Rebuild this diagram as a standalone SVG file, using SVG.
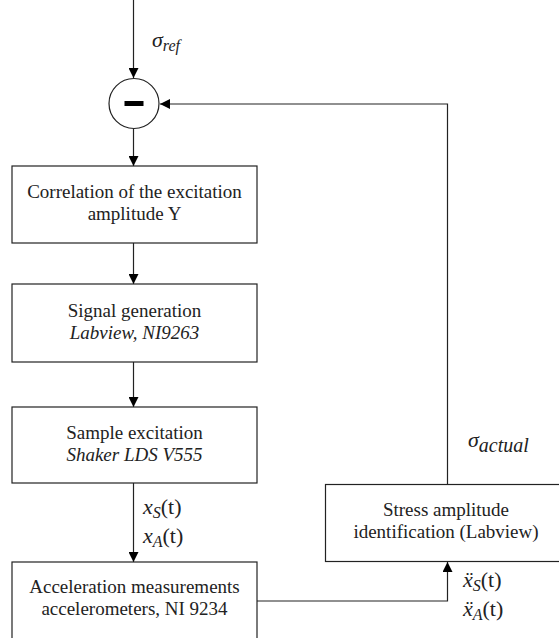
<svg xmlns="http://www.w3.org/2000/svg" width="559" height="638" viewBox="0 0 559 638">
<defs>
<marker id="ah" viewBox="0 0 10 10" refX="10" refY="5" markerWidth="10" markerHeight="10" markerUnits="userSpaceOnUse" orient="auto">
<path d="M0,0 L10,5 L0,10 Z" fill="#000"/>
</marker>
<style>
.box{fill:#fff;stroke:#222;stroke-width:1.2}
.ln{fill:none;stroke:#222;stroke-width:1.2}
.t{font-family:'Liberation Serif','Times New Roman',serif;font-size:19px;fill:#222}
.c{text-anchor:middle}
.i{font-style:italic}
.m{font-family:'Liberation Serif','DejaVu Serif',serif;font-style:italic;font-size:22px;fill:#222}
</style>
</defs>
<g id="connectors">
<path class="ln" d="M133.5,0 V78" marker-end="url(#ah)"/>
<path class="ln" d="M133.5,129 V166" marker-end="url(#ah)"/>
<path class="ln" d="M133.5,243 V284" marker-end="url(#ah)"/>
<path class="ln" d="M133.5,362 V407" marker-end="url(#ah)"/>
<path class="ln" d="M133.5,483 V562" marker-end="url(#ah)"/>
<path class="ln" d="M257,601 H447.5 V562" marker-end="url(#ah)"/>
<path class="ln" d="M447.5,484 V104 H160" marker-end="url(#ah)"/>
</g>
<g id="sum">
<circle cx="134" cy="103.5" r="25" fill="#fff" stroke="#222" stroke-width="1.2"/>
<rect x="124.5" y="101" width="19" height="5" fill="#000"/>
</g>
<g id="lbl-sigma-ref"><text class="m" x="152" y="47" font-size="21">σ<tspan font-size="16" dy="4">ref</tspan></text></g>
<g id="box1">
<rect class="box" x="12" y="166" width="245" height="77"/>
<text class="t c" x="134.5" y="198">Correlation of the excitation</text>
<text class="t c" x="134.5" y="220">amplitude Y</text>
</g>
<g id="box2">
<rect class="box" x="12" y="284" width="245" height="78"/>
<text class="t c" x="134.5" y="317">Signal generation</text>
<text class="t c i" x="134.5" y="339">Labview, NI9263</text>
</g>
<g id="box3">
<rect class="box" x="12" y="407" width="245" height="76"/>
<text class="t c" x="134.5" y="439">Sample excitation</text>
<text class="t c i" x="134.5" y="461">Shaker LDS V555</text>
</g>
<g id="lbl-x"><text class="m" x="143" y="514">x<tspan font-size="16" dy="4">S</tspan><tspan dy="-4" font-style="normal">(t)</tspan></text>
<text class="m" x="143" y="543">x<tspan font-size="16" dy="4">A</tspan><tspan dy="-4" font-style="normal">(t)</tspan></text></g>
<g id="box4">
<rect class="box" x="12" y="562" width="245" height="80"/>
<text class="t c" x="134.5" y="593">Acceleration measurements</text>
<text class="t c" x="134.5" y="615">accelerometers, NI 9234</text>
</g>
<g id="box5">
<rect class="box" x="325.5" y="484.5" width="240" height="77"/>
<text class="t c" x="446" y="516">Stress amplitude</text>
<text class="t c" x="446" y="538">identification (Labview)</text>
</g>
<g id="lbl-sigma-act"><text class="m" x="468" y="447" font-size="27">σ<tspan font-size="20" dy="5">actual</tspan></text></g>
<g id="lbl-xdd"><text class="m" x="463" y="587">ẍ<tspan font-size="16" dy="4">S</tspan><tspan dy="-4" font-style="normal">(t)</tspan></text>
<text class="m" x="463" y="616">ẍ<tspan font-size="16" dy="4">A</tspan><tspan dy="-4" font-style="normal">(t)</tspan></text></g>
</svg>
